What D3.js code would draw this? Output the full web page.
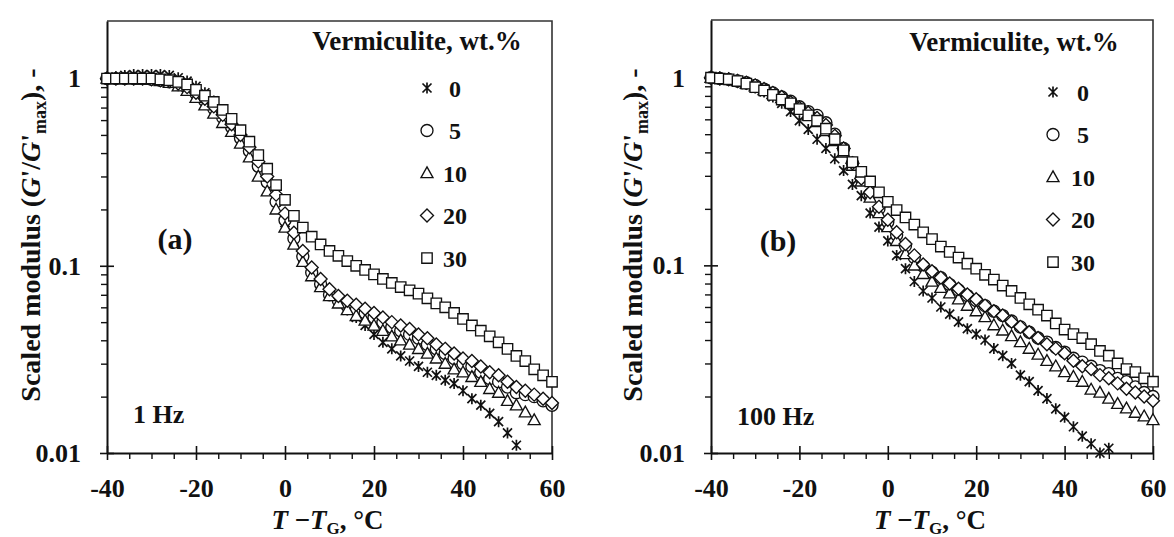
<!DOCTYPE html>
<html><head><meta charset="utf-8">
<script src="https://cdn.jsdelivr.net/npm/d3@7"></script>
<style>
body{margin:0;background:#fff}
svg{display:block}
text{font-family:"Liberation Serif","Times New Roman",serif;font-weight:bold;fill:#111}
</style>
</head><body>
<svg id="c" width="1174" height="537"></svg>
<script>
// ---------------- DATA ----------------
const temps = [-40,-38,-36,-34,-32,-30,-28,-26,-24,-22,-20,-18,-16,-14,-12,-10,-8,-6,-4,-2,0,2,4,6,8,10,12,14,16,18,20,22,24,26,28,30,32,34,36,38,40,42,44,46,48,50,52,54,56,58,60];
const seriesNames = ['0','5','10','20','30'];
const markerTypes = ['star','circle','triangle','diamond','square'];

// 1 Hz panel (a)
const hz1_wt0  = [1.00,1.02,1.04,1.05,1.05,1.05,1.05,1.04,1.01,0.97,0.91,0.84,0.76,0.68,0.59,0.50,0.42,0.34,0.28,0.22,0.17,0.135,0.11,0.092,0.080,0.071,0.064,0.058,0.053,0.048,0.043,0.039,0.036,0.033,0.031,0.029,0.027,0.026,0.0245,0.0235,0.0215,0.0195,0.018,0.0163,0.0147,0.0128,0.011,null,null,null,null];
const hz1_wt5  = [1.00,1.00,1.00,1.00,1.00,0.99,0.98,0.96,0.93,0.89,0.83,0.76,0.69,0.62,0.55,0.48,0.41,0.34,0.28,0.22,0.175,0.14,0.112,0.092,0.080,0.070,0.065,0.061,0.058,0.056,0.053,0.050,0.047,0.045,0.043,0.041,0.038,0.036,0.034,0.032,0.030,0.029,0.027,0.025,0.024,0.0225,0.021,0.0205,0.020,0.019,0.018];
const hz1_wt10 = [1.00,1.00,1.00,1.00,0.99,0.99,0.97,0.95,0.91,0.86,0.79,0.72,0.65,0.58,0.52,0.45,0.38,0.30,0.25,0.20,0.16,0.13,0.105,0.088,0.077,0.069,0.063,0.058,0.054,0.051,0.048,0.045,0.042,0.040,0.038,0.036,0.034,0.032,0.030,0.028,0.027,0.0255,0.024,0.022,0.021,0.019,0.018,0.0165,0.015,null,null];
const hz1_wt20 = [1.00,1.00,1.00,1.00,1.00,0.99,0.98,0.97,0.94,0.90,0.84,0.78,0.71,0.64,0.57,0.50,0.43,0.36,0.30,0.24,0.19,0.15,0.12,0.098,0.085,0.075,0.069,0.065,0.062,0.059,0.056,0.053,0.050,0.048,0.046,0.043,0.041,0.038,0.036,0.034,0.032,0.031,0.029,0.027,0.026,0.024,0.0225,0.0215,0.0205,0.0195,0.0185];
const hz1_wt30 = [1.00,1.00,1.00,1.00,1.00,1.00,0.99,0.98,0.96,0.93,0.87,0.81,0.75,0.68,0.61,0.53,0.46,0.39,0.33,0.27,0.225,0.185,0.16,0.143,0.13,0.12,0.113,0.106,0.100,0.095,0.090,0.085,0.081,0.077,0.074,0.071,0.067,0.063,0.060,0.056,0.052,0.048,0.045,0.042,0.039,0.036,0.033,0.031,0.028,0.026,0.024];

// 100 Hz panel (b)
const hz100_wt0  = [1.00,0.99,0.97,0.95,0.92,0.88,0.84,0.79,0.73,0.66,0.59,0.53,0.47,0.42,0.37,0.32,0.27,0.235,0.19,0.16,0.135,0.113,0.096,0.082,0.073,0.067,0.060,0.055,0.050,0.046,0.043,0.040,0.036,0.033,0.030,0.026,0.024,0.0215,0.0195,0.0172,0.0155,0.0138,0.0123,0.0112,0.0100,0.0106,null,null,null,null,null];
const hz100_wt5  = [1.00,0.99,0.98,0.96,0.94,0.91,0.87,0.83,0.79,0.75,0.70,0.66,0.63,0.575,0.50,0.42,0.35,0.29,0.24,0.20,0.17,0.145,0.127,0.11,0.099,0.092,0.086,0.079,0.074,0.069,0.065,0.061,0.057,0.054,0.0505,0.047,0.044,0.041,0.039,0.0365,0.0345,0.032,0.0305,0.029,0.0275,0.0265,0.025,0.024,0.0225,0.021,0.020];
const hz100_wt10 = [1.00,0.99,0.98,0.96,0.93,0.90,0.86,0.82,0.78,0.73,0.68,0.63,0.58,0.52,0.46,0.40,0.34,0.28,0.23,0.19,0.16,0.135,0.115,0.10,0.09,0.082,0.076,0.071,0.066,0.061,0.057,0.053,0.048,0.045,0.042,0.039,0.036,0.0335,0.031,0.029,0.027,0.0255,0.024,0.0218,0.021,0.0195,0.0183,0.0173,0.0164,0.0157,0.015];
const hz100_wt20 = [1.00,0.99,0.98,0.96,0.94,0.91,0.87,0.83,0.79,0.74,0.69,0.65,0.61,0.56,0.49,0.42,0.35,0.29,0.245,0.205,0.175,0.15,0.13,0.113,0.101,0.093,0.086,0.080,0.075,0.070,0.066,0.061,0.057,0.054,0.050,0.047,0.044,0.041,0.038,0.036,0.034,0.031,0.029,0.028,0.026,0.025,0.0235,0.022,0.021,0.020,0.019];
const hz100_wt30 = [1.00,0.99,0.98,0.96,0.93,0.89,0.855,0.81,0.765,0.73,0.68,0.63,0.59,0.535,0.47,0.41,0.355,0.315,0.28,0.245,0.218,0.197,0.18,0.165,0.15,0.138,0.126,0.118,0.11,0.102,0.096,0.089,0.084,0.078,0.073,0.067,0.062,0.058,0.054,0.049,0.0455,0.043,0.041,0.038,0.035,0.033,0.030,0.028,0.027,0.025,0.024];

const xTickValues = [-40,-20,0,20,40,60];
const xMinorTicks = [-35,-30,-25,-15,-10,-5,5,10,15,25,30,35,45,50,55];
const yTickValues = [0.01,0.1,1];
const yTickLabels = ['0.01','0.1','1'];
const yMinorTicks = [0.02,0.03,0.04,0.05,0.06,0.07,0.08,0.09,0.2,0.3,0.4,0.5,0.6,0.7,0.8,0.9];
const legendTitle = 'Vermiculite, wt.%';
const panelLetters = ['(a)','(b)'];
const frequencies = ['1 Hz','100 Hz'];
const panelSeries = [
  [hz1_wt0,hz1_wt5,hz1_wt10,hz1_wt20,hz1_wt30],
  [hz100_wt0,hz100_wt5,hz100_wt10,hz100_wt20,hz100_wt30]
];

// ---------------- LAYOUT ----------------
const layout = [
  {l:107,r:552,t:21,b:453, ytitleX:40, legTitleX:417, legTitleY:50, legMarkX:427, legTextX:455, legY0:88,
   letterX:175, letterY:249, freqX:133, freqY:423},
  {l:711,r:1153,t:20,b:453, ytitleX:642, legTitleX:1014, legTitleY:51, legMarkX:1053, legTextX:1083, legY0:92,
   letterX:778, letterY:251, freqX:737, freqY:425}
];
const legStep = 42.5;

const svg = d3.select('#c');

function symbolPath(type){
  switch(type){
    case 'circle':   return 'M6,0A6,6 0 1,1 -6,0A6,6 0 1,1 6,0Z';
    case 'square':   return 'M-5.2,-5.2H5.2V5.2H-5.2Z';
    case 'triangle': return 'M0,-6.2L6,4.6H-6Z';
    case 'diamond':  return 'M0,-6.5L6.5,0L0,6.5L-6.5,0Z';
    case 'star':     return 'M-4.5,-4.5L4.5,4.5M-4.5,4.5L4.5,-4.5M0,-5.5V5.5';
  }
}
function styleMarker(sel, type){
  if(type==='star'){
    sel.attr('fill','none').attr('stroke','#111').attr('stroke-width',1.7);
  } else {
    sel.attr('fill','#fff').attr('stroke','#111').attr('stroke-width',1.35);
  }
}

layout.forEach((L, pi) => {
  const x = d3.scaleLinear().domain([-40,60]).range([L.l, L.r]);
  const y = d3.scaleLog().domain([0.01,2.03]).range([L.b, L.t]);
  const g = svg.append('g');

  // frame (top/right)
  g.append('path').attr('d',`M${L.l},${L.t}H${L.r}V${L.b}`)
    .attr('fill','none').attr('stroke','#333').attr('stroke-width',1.6);

  // x axis minor
  g.append('g').attr('transform',`translate(0,${L.b})`)
    .call(d3.axisBottom(x).tickValues(xMinorTicks).tickFormat('').tickSize(6).tickSizeOuter(0))
    .call(a=>a.select('.domain').remove())
    .selectAll('line').attr('stroke','#111').attr('stroke-width',1.4);
  // x axis major
  const xa = g.append('g').attr('transform',`translate(0,${L.b})`)
    .call(d3.axisBottom(x).tickValues(xTickValues).tickFormat(d3.format('d')).tickSize(7).tickSizeOuter(0).tickPadding(19));
  xa.select('.domain').attr('stroke','#111').attr('stroke-width',2);
  xa.selectAll('.tick line').attr('y1',-7).attr('stroke','#111').attr('stroke-width',1.6);
  xa.selectAll('.tick text').style('font-size','26px').attr('fill','#111')
    .style('font-family','"Liberation Serif","Times New Roman",serif').style('font-weight','bold')
    .text(d => d < 0 ? '-' + Math.abs(d) : String(d));

  // y axis minor
  g.append('g').attr('transform',`translate(${L.l},0)`)
    .call(d3.axisLeft(y).tickValues(yMinorTicks).tickFormat('').tickSize(6).tickSizeOuter(0))
    .call(a=>a.select('.domain').remove())
    .selectAll('line').attr('stroke','#111').attr('stroke-width',1.4);
  // y axis major
  const ya = g.append('g').attr('transform',`translate(${L.l},0)`)
    .call(d3.axisLeft(y).tickValues(yTickValues).tickFormat((d,i)=>yTickLabels[i]).tickSize(7).tickSizeOuter(0).tickPadding(19));
  ya.select('.domain').attr('stroke','#111').attr('stroke-width',2);
  ya.selectAll('.tick line').attr('x1',7).attr('stroke','#111').attr('stroke-width',1.6);
  ya.selectAll('.tick text').style('font-size','26px').attr('fill','#111')
    .style('font-family','"Liberation Serif","Times New Roman",serif').style('font-weight','bold');

  // data markers
  panelSeries[pi].forEach((vals, si) => {
    const pts = temps.map((t,i)=>({t, v: vals[i]})).filter(d => d.v != null);
    const sel = g.append('g').selectAll('path').data(pts).join('path')
      .attr('d', symbolPath(markerTypes[si]))
      .attr('transform', d => `translate(${x(d.t)},${y(d.v)})`);
    styleMarker(sel, markerTypes[si]);
  });

  // legend
  g.append('text').attr('x',L.legTitleX).attr('y',L.legTitleY).attr('text-anchor','middle')
    .style('font-size','27px').text(legendTitle);
  seriesNames.forEach((name, si) => {
    const cy = L.legY0 + si*legStep;
    const m = g.append('path').attr('d', symbolPath(markerTypes[si]))
      .attr('transform',`translate(${L.legMarkX},${cy})`);
    styleMarker(m, markerTypes[si]);
    g.append('text').attr('x',L.legTextX).attr('y',cy+8.5).attr('text-anchor','middle')
      .style('font-size','24px').text(name);
  });

  // panel letter and frequency
  g.append('text').attr('x',L.letterX).attr('y',L.letterY).attr('text-anchor','middle')
    .style('font-size','30px').text(panelLetters[pi]);
  g.append('text').attr('x',L.freqX).attr('y',L.freqY)
    .style('font-size','26px').text(frequencies[pi]);

  // y title
  const yt = g.append('text').attr('text-anchor','middle')
    .attr('transform',`translate(${L.ytitleX},235) rotate(-90)`)
    .style('font-size','28px');
  yt.append('tspan').text('Scaled modulus (');
  yt.append('tspan').style('font-style','italic').text('G');
  yt.append('tspan').text("'/");
  yt.append('tspan').style('font-style','italic').text('G');
  yt.append('tspan').text("'");
  yt.append('tspan').attr('dy',6).style('font-size','18px').text('max');
  yt.append('tspan').attr('dy',-6).text('), -');

  // x title
  const xt = g.append('text').attr('text-anchor','middle')
    .attr('x',(L.l+L.r)/2 - 2).attr('y',529).style('font-size','27px');
  xt.append('tspan').style('font-style','italic').text('T');
  xt.append('tspan').text(' \u2212');
  xt.append('tspan').style('font-style','italic').text('T');
  xt.append('tspan').attr('dy',5).style('font-size','17px').text('G');
  xt.append('tspan').attr('dy',-5).text(', \u00B0C');
});
</script>
</body></html>
